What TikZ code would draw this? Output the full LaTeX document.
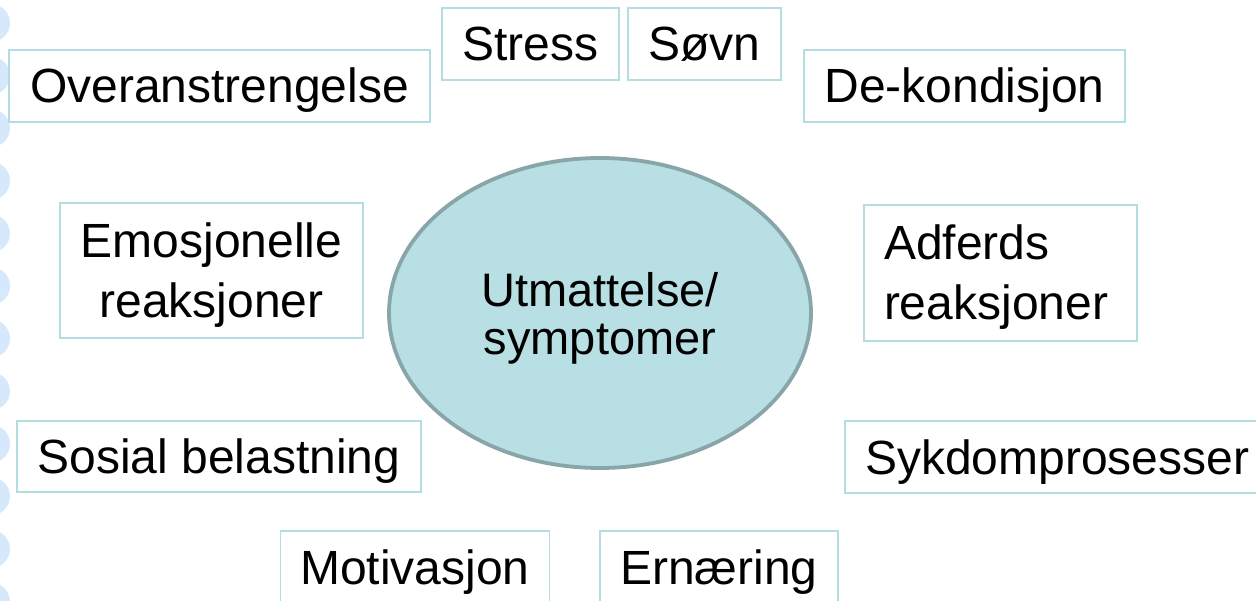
\documentclass[tikz,border=0pt]{standalone}
\usepackage{fontspec}
\setmainfont{Liberation Sans}
\usetikzlibrary{shapes.geometric}
\definecolor{boxline}{HTML}{B4DDE2}
\definecolor{ellfill}{HTML}{B8DFE3}
\definecolor{ellline}{HTML}{88A5A8}
\definecolor{bead}{HTML}{D6E8FB}
\begin{document}
\begin{tikzpicture}[x=1bp,y=-1bp,
  factor/.style={draw=boxline, line width=1.5bp, fill=white,
    inner xsep=20bp, inner ysep=0pt,
    font=\fontsize{48bp}{60bp}\selectfont,
    text height=34bp, text depth=0pt},
  % top-aligned paragraph (text width): baseline at the first line
  twoline/.style={text depth=60bp},
  % centred lines (no text width): baseline at the last line
  twocentred/.style={text height=94bp, text depth=0pt},
  core/.style={ellipse, draw=ellline, line width=3.8bp, fill=ellfill,
    inner sep=0pt, align=center,
    font=\fontsize{47bp}{48bp}\selectfont,
    text height=82bp, text depth=0pt}]
\useasboundingbox (0,0) rectangle (1256,601);

% decorative beads along the left edge
\foreach \k in {0,...,11}
  \fill[bead] (-9,{23+52.6*\k}) circle (19);

% surrounding factors
\node[factor, minimum width=421bp, minimum height=72bp] (over)   at (219.5,86)  {Overanstrengelse};
\node[factor, minimum width=177bp, minimum height=72bp] (stress) at (530.5,44)  {Stress};
\node[factor, minimum width=153bp, minimum height=72bp] (sovn)   at (704.5,44)  {Søvn};
\node[factor, minimum width=321bp, minimum height=72bp] (dekond) at (964.5,86)  {De-kondisjon};
\node[factor, twocentred, align=center, minimum width=303bp, minimum height=135bp]
  (emo) at (211.5,270.5) {Emosjonelle\\reaksjoner};
\node[factor, twoline, align=left, text width=233bp, minimum height=136bp]
  (adf) at (1000.5,273) {Adferds\\reaksjoner};
\node[factor, minimum width=404bp, minimum height=71bp] (sosial) at (219,456.5) {Sosial belastning};
\node[factor, align=left, text width=400bp, minimum height=72bp] (sykdom) at (1065,457) {Sykdomprosesser};
\node[factor, minimum width=264bp, minimum height=72bp] (motiv)  at (415,567)    {Motivasjon};
\node[factor, minimum width=238bp, minimum height=72bp] (ern)    at (719,567)    {Ernæring};

% central state
\node[core, minimum width=422bp, minimum height=310bp] (state) at (600,313) {Utmattelse/\\symptomer};
\end{tikzpicture}
\end{document}
